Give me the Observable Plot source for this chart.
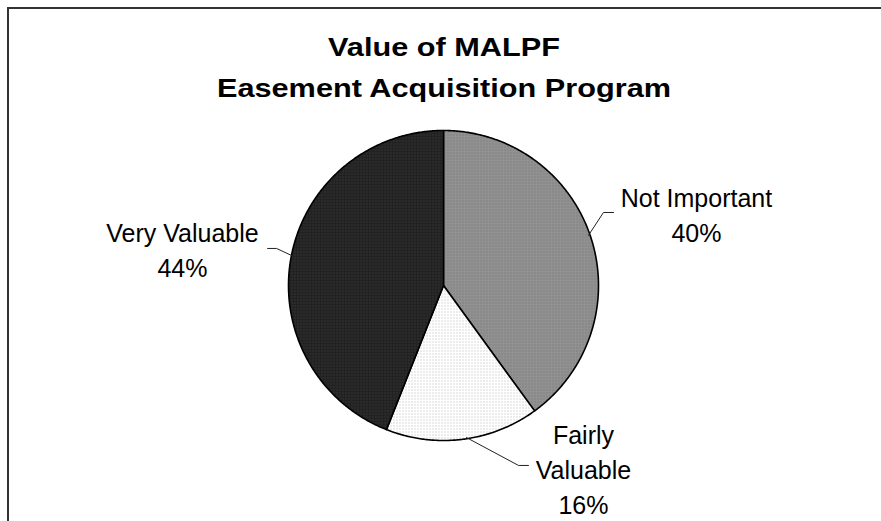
<!DOCTYPE html>
<html>
<head>
<meta charset="utf-8">
<script src="https://cdn.jsdelivr.net/npm/d3@7"></script>
<script src="https://cdn.jsdelivr.net/npm/@observablehq/plot@0.6"></script>
<style>
  body { margin: 0; background: #fff; }
  #wrap { position: relative; width: 881px; height: 521px; overflow: hidden; background: #fff; }
  #frame { position: absolute; left: 7px; top: 7px; width: 900px; height: 600px;
           border-top: 2px solid #333; border-left: 2px solid #333; }
  #title { position: absolute; left: 0; top: 27px; width: 888px; text-align: center;
           font: bold 26px "Liberation Sans", Arial, sans-serif; line-height: 41px;
           transform: scaleX(1.18); transform-origin: 50% 0; color: #000; }
  #chart { position: absolute; left: 0; top: 110px; }
</style>
</head>
<body>
<div id="wrap">
  <div id="frame"></div>
  <div id="title">Value of MALPF<br>Easement Acquisition Program</div>
  <div id="chart"></div>
</div>
<script>
// ---- data ----
const categories = ["Not Important", "Fairly Valuable", "Very Valuable"];
const values = [40, 16, 44];
const labelNames = ["Not Important", "Fairly\nValuable", "Very Valuable"];

// ---- layout (label anchors and leader lines, in unit-radius coordinates) ----
const labelAnchors = [
  {x: 1.632, y: 0.465},
  {x: 0.903, y: -1.174},
  {x: -1.684, y: 0.239}
];
const leaderPaths = [
  [[0.935, 0.323], [1.032, 0.471], [1.097, 0.471]],
  [[0.148, -0.981], [0.484, -1.161], [0.548, -1.161]],
  [[-0.981, 0.194], [-1.077, 0.239], [-1.135, 0.239]]
];
const patternIds = ["pNot", "pFair", "pVery"];

// slices from d3.pie angles (clockwise from 12 o'clock)
const arcs = d3.pie().sort(null).value(d => d)(values);
const slices = arcs.map((a, i) => {
  const pts = [{x: 0, y: 0}];
  const n = Math.max(2, Math.ceil((a.endAngle - a.startAngle) / (Math.PI / 360)));
  for (let j = 0; j <= n; j++) {
    const t = a.startAngle + (a.endAngle - a.startAngle) * j / n;
    pts.push({x: Math.sin(t), y: Math.cos(t)});
  }
  pts.push({x: 0, y: 0});
  return pts;
});

const labels = categories.map((c, i) => ({
  text: `${labelNames[i]}\n${values[i]}%`,
  x: labelAnchors[i].x,
  y: labelAnchors[i].y
}));
const leaders = leaderPaths.flatMap((p, i) => p.map(([x, y]) => ({x, y, k: categories[i]})));

const chart = Plot.plot({
  width: 881,
  height: 411,
  marginLeft: 288,
  marginRight: 283,
  marginTop: 20,
  marginBottom: 81,
  x: {domain: [-1, 1], axis: null},
  y: {domain: [-1, 1], axis: null},
  style: {background: "transparent", overflow: "visible"},
  marks: [
    ...slices.map((pts, i) => Plot.line(pts, {
      x: "x", y: "y",
      fill: `url(#${patternIds[i]})`,
      stroke: "#000", strokeWidth: 1.6, strokeLinejoin: "round"
    })),
    Plot.line(leaders, {x: "x", y: "y", z: "k", stroke: "#222", strokeWidth: 1}),
    Plot.text(labels, {
      x: "x", y: "y", text: "text",
      fontSize: 25, fontFamily: "Liberation Sans, Arial, sans-serif",
      lineHeight: 1.4, textAnchor: "middle", fill: "#000"
    })
  ]
});

// fill patterns (dithered textures as in the original)
const ns = "http://www.w3.org/2000/svg";
const defs = document.createElementNS(ns, "defs");
defs.innerHTML = `
  <pattern id="pNot" width="3" height="3" patternUnits="userSpaceOnUse">
    <rect width="3" height="3" fill="#919191"/>
    <rect width="1" height="1" fill="#707070"/>
  </pattern>
  <pattern id="pFair" width="3" height="3" patternUnits="userSpaceOnUse">
    <rect width="3" height="3" fill="#ffffff"/>
    <rect width="1" height="1" fill="#b4b4b4"/>
  </pattern>
  <pattern id="pVery" width="3" height="3" patternUnits="userSpaceOnUse">
    <rect width="3" height="3" fill="#222222"/>
    <rect width="1" height="1" fill="#444444"/>
  </pattern>`;
chart.insertBefore(defs, chart.firstChild);

document.getElementById("chart").appendChild(chart);
</script>
</body>
</html>
